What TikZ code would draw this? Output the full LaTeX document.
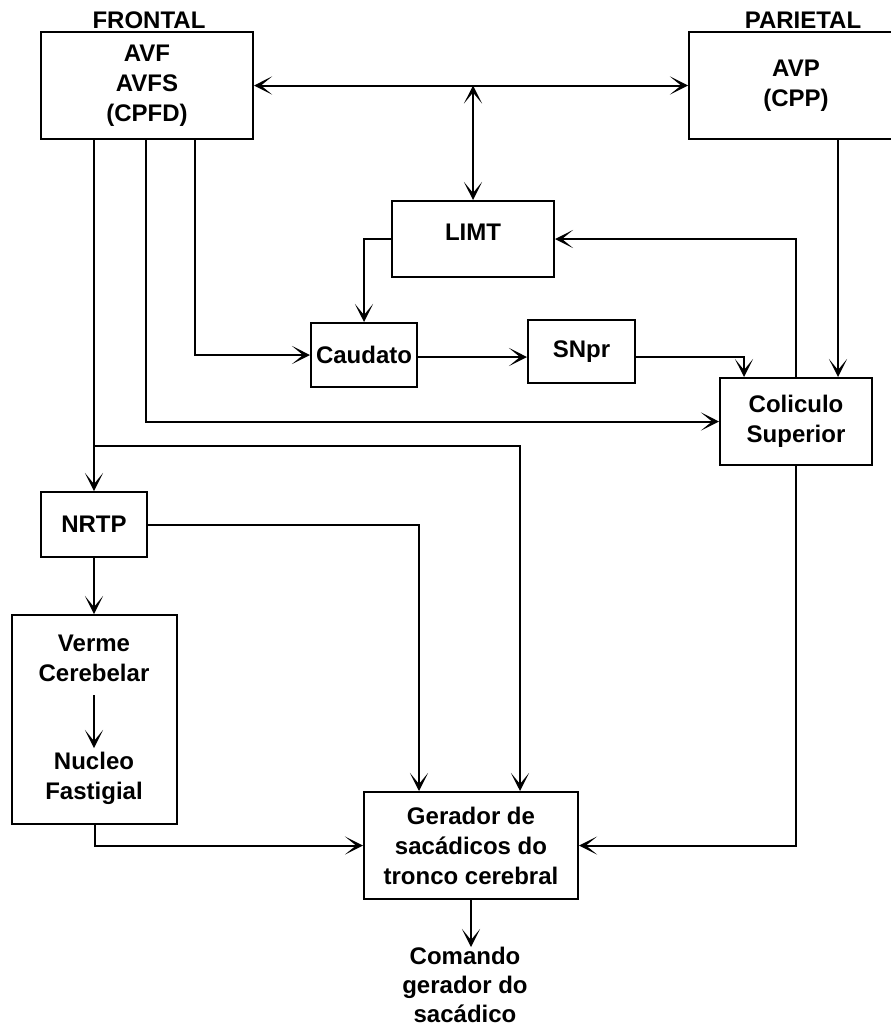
\documentclass[tikz,border=0pt]{standalone}
\usepackage{fontspec}
\setmainfont{Liberation Sans}
\usetikzlibrary{arrows.meta}
\begin{document}
\begin{tikzpicture}[x=1pt,y=1pt,
  font=\fontsize{24}{30}\selectfont\bfseries,
  box/.style={draw, line width=2pt, rectangle, align=center, inner sep=0pt},
  lbl/.style={align=center, inner sep=0pt},
  tip/.tip={Stealth[length=18pt,width=18pt,inset=11pt]},
  conn/.style={line width=2pt, -tip},
  dconn/.style={line width=2pt, tip-tip}
]
\useasboundingbox (0,0) rectangle (891,-1028);
\fill[white] (0,0) rectangle (891,-1028);

% labels
\node[lbl] (flab) at (149,-20) {FRONTAL};
\node[lbl] (plab) at (803,-20) {PARIETAL};

% boxes
\node[box, minimum width=212, minimum height=107] (frontal) at (147,-85.5) {AVF\\AVFS\\(CPFD)};
\node[box, minimum width=214, minimum height=107] (parietal) at (796,-85.5) {AVP\\(CPP)};
\node[box, minimum width=162, minimum height=76, text depth=14pt] (limt) at (473,-239) {LIMT};
\node[box, minimum width=106, minimum height=64] (caudato) at (364,-355) {Caudato};
\node[box, minimum width=107, minimum height=63] (snpr) at (581.5,-351.5) {SNpr};
\node[box, minimum width=152, minimum height=87] (colic) at (796,-421.5) {Coliculo\\Superior};
\node[box, minimum width=106, minimum height=65] (nrtp) at (94,-524.5) {NRTP};
\node[box, minimum width=165, minimum height=209] (verme) at (94.5,-719.5) {};
\node[lbl] (vtxt) at (94,-658) {Verme\\Cerebelar};
\node[lbl] (ntxt) at (94,-778) {Nucleo\\Fastigial};
\node[box, minimum width=214, minimum height=107] (gerador) at (471,-845.5) {Gerador de\\sacádicos do\\tronco cerebral};
\node[lbl, anchor=north, font=\fontsize{24}{29}\selectfont\bfseries] (comando) at (465,-947) {Comando\\gerador do\\sacádico};

% coordinates
\coordinate (j1) at (473,-85.5);
\coordinate (b1) at (94,-446);
\coordinate (va) at (94,-695);
\coordinate (vb) at (94,-748);

% connectors
\draw[dconn] (frontal.east) -- (parietal.west);
\draw[dconn] (j1) -- (limt.north);
\draw[conn] (limt.west) -| (caudato.north);
\draw[conn] ([xshift=48]frontal.south) |- (caudato.west);
\draw[conn] (caudato.east |- 0,-357) -- (snpr.west |- 0,-357);
\draw[conn] (snpr.east |- 0,-357) -| ([xshift=-52]colic.north);
\draw[conn] ([xshift=-1]frontal.south) |- (colic.west);
\draw[conn] ([xshift=42]parietal.south) -- ([xshift=42]colic.north);
\draw[conn] (colic.north) |- (limt.east);
\draw[conn] (colic.south) |- (gerador.east);
\draw[conn] (frontal.south -| nrtp.north) -- (nrtp.north);
\draw[conn] (b1) -| ([xshift=49]gerador.north);
\draw[conn] (nrtp.east) -| ([xshift=-52]gerador.north);
\draw[conn] (nrtp.south) -- (verme.north -| nrtp.south);
\draw[conn] (va) -- (vb);
\draw[conn] (verme.south) |- (gerador.west);
\draw[conn] (gerador.south) -- (gerador.south |- comando.north);
\end{tikzpicture}
\end{document}
